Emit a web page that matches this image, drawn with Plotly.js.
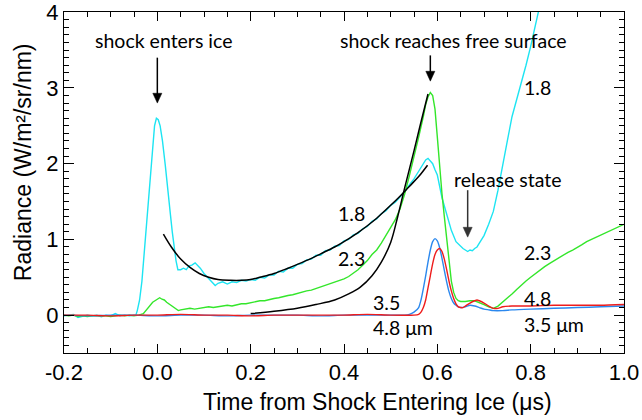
<!DOCTYPE html>
<html>
<head>
<meta charset="utf-8">
<script src="https://cdn.plot.ly/plotly-3.0.1.min.js"></script>
<style>html,body{margin:0;padding:0;background:#fff;}#chart{width:642px;height:420px;}</style>
</head>
<body>
<div id="chart"></div>
<script>
// 1.8 um channel (cyan)
const t18 = [-0.2,-0.19,-0.18,-0.17,-0.16,-0.15,-0.14,-0.13,-0.12,-0.11,-0.10,-0.09,-0.08,-0.07,-0.06,-0.05,-0.046,
  -0.043,-0.038,-0.033,-0.028,-0.022,-0.016,-0.011,-0.006,-0.002,0.002,0.006,0.011,0.017,0.022,0.028,0.032,0.036,0.040,0.044,
  0.05,0.056,0.062,0.068,0.074,0.081,0.086,0.092,0.1,0.107,0.114,0.12,0.124,
  0.13,0.14,0.15,0.16,0.17,0.18,0.19,0.2,0.21,0.22,0.23,0.24,0.25,0.26,0.27,0.28,0.29,0.3,0.31,0.32,
  0.33,0.34,0.35,0.36,0.37,0.38,0.39,0.4,0.41,0.42,0.43,0.44,0.45,0.46,0.47,0.48,0.49,0.5,0.51,0.52,
  0.53,0.54,0.55,0.56,0.565,0.57,0.575,0.58,0.585,0.59,0.595,0.6,
  0.61,0.62,0.63,0.64,0.65,0.655,0.66,0.665,0.67,0.675,0.68,0.685,0.69,
  0.7,0.71,0.72,0.73,0.74,0.75,0.76,0.77,0.78,0.79,0.8,0.81,0.82];
const v18 = [-0.01,0.0,0.01,-0.03,-0.01,0.0,-0.01,0.0,-0.02,0.0,-0.01,0.02,-0.01,0.0,-0.01,-0.01,0.0,
  0.06,0.2,0.45,0.85,1.33,1.8,2.2,2.5,2.6,2.58,2.5,2.3,1.98,1.65,1.33,1.1,0.89,0.72,0.6,
  0.6,0.62,0.6,0.65,0.66,0.69,0.66,0.62,0.55,0.5,0.45,0.41,0.39,
  0.42,0.44,0.41,0.44,0.43,0.46,0.45,0.47,0.46,0.5,0.49,0.53,0.53,0.58,0.57,0.62,0.62,0.67,0.68,0.73,
  0.74,0.79,0.79,0.85,0.86,0.91,0.92,0.98,1.0,1.06,1.08,1.14,1.17,1.24,1.27,1.34,1.38,1.45,1.49,1.56,
  1.63,1.72,1.8,1.9,1.95,2.0,2.05,2.07,2.04,2.0,1.92,1.85,
  1.55,1.35,1.12,0.97,0.9,0.88,0.86,0.84,0.86,0.85,0.88,0.9,0.95,
  1.05,1.2,1.37,1.65,2.0,2.3,2.62,2.85,3.05,3.3,3.55,3.8,4.1];

// 2.3 um channel (green)
const t23 = [-0.2,-0.19,-0.18,-0.17,-0.16,-0.15,-0.14,-0.13,-0.12,-0.11,-0.1,-0.09,-0.08,-0.07,-0.06,-0.05,-0.04,-0.03,-0.02,
  -0.01,0.0,0.005,0.01,0.015,0.02,0.025,0.03,0.035,0.04,0.045,
  0.05,0.06,0.07,0.08,0.09,0.1,0.11,0.12,0.13,0.14,0.15,0.16,0.17,0.18,0.19,0.2,0.21,0.22,0.23,0.24,
  0.25,0.26,0.27,0.28,0.29,0.3,0.31,0.32,0.33,0.34,0.35,0.36,0.37,0.38,0.39,0.4,0.41,0.42,0.43,0.44,
  0.45,0.46,0.47,0.48,0.49,0.5,0.51,0.52,0.53,0.54,0.55,0.56,0.57,
  0.575,0.58,0.585,0.59,0.595,0.6,0.605,0.61,0.615,0.62,0.625,0.63,0.635,0.64,0.645,0.65,
  0.66,0.67,0.68,0.69,0.7,0.71,0.72,0.73,0.74,0.75,0.76,0.77,0.78,0.79,0.8,0.81,0.82,0.83,0.84,0.85,
  0.86,0.87,0.88,0.89,0.9,0.91,0.92,0.93,0.94,0.95,0.96,0.97,0.98,0.99,1.0];
const v23 = [0.0,-0.01,0.0,-0.02,-0.01,-0.02,-0.01,-0.01,0.0,-0.01,-0.02,-0.01,0.0,-0.01,0.0,-0.01,0.0,0.02,0.1,
  0.17,0.21,0.23,0.21,0.2,0.17,0.15,0.13,0.1,0.08,0.06,
  0.07,0.08,0.09,0.08,0.09,0.1,0.11,0.1,0.11,0.12,0.13,0.12,0.14,0.15,0.15,0.16,0.18,0.19,0.19,0.21,
  0.22,0.23,0.25,0.26,0.27,0.29,0.3,0.32,0.33,0.35,0.37,0.39,0.41,0.43,0.46,0.48,0.51,0.55,0.6,0.66,
  0.72,0.8,0.86,0.95,1.05,1.15,1.26,1.4,1.6,1.84,2.08,2.35,2.62,
  2.78,2.88,2.94,2.9,2.72,2.35,1.95,1.6,1.3,1.0,0.72,0.45,0.3,0.22,0.19,0.18,
  0.18,0.19,0.19,0.17,0.14,0.11,0.09,0.12,0.17,0.22,0.28,0.34,0.4,0.45,0.5,0.55,0.6,0.64,0.68,0.72,
  0.76,0.79,0.83,0.86,0.89,0.93,0.97,1.0,1.03,1.06,1.09,1.12,1.15,1.17,1.2];

// 3.5 um channel (blue)
const t35 = [-0.2,-0.15,-0.1,-0.05,0.0,0.05,0.1,0.15,0.2,0.25,0.3,0.35,0.4,0.45,0.5,
  0.53,0.54,0.55,0.56,
  0.565,0.57,0.575,0.58,0.585,0.59,0.595,0.6,0.605,0.61,0.615,0.62,0.625,0.63,0.635,0.64,0.645,0.65,
  0.66,0.67,0.68,0.69,0.7,0.71,0.72,
  0.74,0.76,0.8,0.85,0.9,0.95,1.0];
const v35 = [0.0,-0.01,0.0,0.0,-0.01,0.0,0.0,-0.01,0.0,0.0,0.0,-0.01,0.0,0.0,0.0,
  0.0,0.01,0.04,0.1,
  0.2,0.35,0.52,0.7,0.86,0.97,1.01,0.98,0.89,0.75,0.59,0.44,0.31,0.22,0.16,0.13,0.11,0.1,
  0.11,0.13,0.12,0.1,0.08,0.07,0.06,
  0.06,0.07,0.08,0.09,0.1,0.11,0.12];

// 4.8 um channel (red)
const t48 = [-0.2,-0.15,-0.1,-0.05,0.0,0.05,0.1,0.15,0.2,0.25,0.3,0.35,0.4,0.45,0.5,0.55,
  0.56,0.565,0.57,0.575,0.58,0.585,0.59,0.595,0.6,0.605,0.61,0.615,0.62,0.625,0.63,0.635,0.64,0.645,0.65,0.655,0.66,
  0.67,0.68,0.685,0.69,0.7,0.71,0.72,0.73,0.74,
  0.76,0.8,0.85,0.9,0.95,1.0];
const v48 = [0.0,0.0,-0.01,0.0,0.0,0.01,0.0,0.0,-0.01,0.0,0.0,0.0,0.0,0.01,0.0,0.0,
  0.01,0.04,0.1,0.2,0.36,0.52,0.68,0.8,0.86,0.88,0.84,0.74,0.6,0.45,0.32,0.22,0.15,0.11,0.1,0.1,0.12,
  0.16,0.19,0.2,0.19,0.16,0.12,0.09,0.09,0.11,
  0.12,0.12,0.13,0.13,0.13,0.14];

// black fit curves
const tFit1 = [0.013,0.03,0.05,0.07,0.09,0.11,0.13,0.157,0.18,0.2,0.22,0.25,0.28,0.3,0.33,0.35,0.38,0.4,0.43,0.45,0.47,0.5,0.52,0.54,0.56,0.579];
const vFit1 = [1.07,0.9,0.74,0.63,0.55,0.5,0.47,0.46,0.46,0.47,0.5,0.55,0.62,0.67,0.75,0.81,0.9,0.97,1.09,1.18,1.28,1.45,1.57,1.7,1.83,1.98];
const tFit2 = [0.2,0.25,0.3,0.34,0.38,0.41,0.435,0.46,0.48,0.5,0.515,0.53,0.55,0.565,0.58];
const vFit2 = [0.02,0.05,0.09,0.14,0.2,0.28,0.37,0.52,0.7,0.96,1.3,1.68,2.17,2.55,2.92];

const xTickVals = [-0.2,0,0.2,0.4,0.6,0.8,1.0];
const xTickText = ['-0.2','0.0','0.2','0.4','0.6','0.8','1.0'];
const yTickVals = [0,1,2,3,4];
const yTickText = ['0','1','2','3','4'];

const lw = 1.4;
const traces = [
  {x:t18, y:v18, mode:'lines', line:{color:'#1de4f2', width:lw}},
  {x:t23, y:v23, mode:'lines', line:{color:'#33e62a', width:lw}},
  {x:t35, y:v35, mode:'lines', line:{color:'#2b88ee', width:lw, shape:'spline', smoothing:0.6}},
  {x:t48, y:v48, mode:'lines', line:{color:'#ee1c1c', width:lw, shape:'spline', smoothing:0.6}},
  {x:tFit1, y:vFit1, mode:'lines', line:{color:'#000', width:1.5, shape:'spline'}},
  {x:tFit2, y:vFit2, mode:'lines', line:{color:'#000', width:1.5, shape:'spline'}}
];

const tickFont = {family:'"Liberation Sans", Arial, Helvetica, sans-serif', size:22, color:'#000'};
const labFont = {family:'Lato, "Noto Sans", sans-serif', size:19.5, color:'#000'};
function lab(text, x, y){ return {text:text, x:x, y:y, xref:'x', yref:'y', showarrow:false, font:labFont, xanchor:'center', yanchor:'middle'}; }

// arrows drawn as shapes: vertical stem + filled head (x, tail y, tip y)
const HW = 0.0097, HL = 0.13;
function arrowShapes(x, yTail, yTip, col){
  return [
    {type:'line', xref:'x', yref:'y', x0:x, x1:x, y0:yTail, y1:yTip + HL*0.8, line:{color:col, width:1.5}},
    {type:'path', xref:'x', yref:'y', path:'M '+(x-HW)+' '+(yTip+HL)+' L '+(x+HW)+' '+(yTip+HL)+' L '+x+' '+yTip+' Z',
      fillcolor:col, line:{color:col, width:0.5}}
  ];
}

const layout = {
  width:642, height:420,
  margin:{l:64, r:18, t:12, b:67, pad:0},
  paper_bgcolor:'#fff', plot_bgcolor:'#fff',
  showlegend:false,
  xaxis:{range:[-0.2,1.0], tickmode:'array', tickvals:xTickVals, ticktext:xTickText,
    ticks:'inside', ticklen:9, tickwidth:1, tickcolor:'#000', ticklabeloverflow:'allow',
    minor:{tickmode:'linear', tick0:0, dtick:0.05, ticks:'inside', ticklen:5, tickwidth:1, tickcolor:'#000', showgrid:false},
    showline:true, linecolor:'#000', linewidth:1, mirror:'allticks', showgrid:false, zeroline:false, tickfont:tickFont},
  yaxis:{range:[-0.5,4.003], tickmode:'array', tickvals:yTickVals, ticktext:yTickText,
    ticks:'inside', ticklen:10, tickwidth:1, tickcolor:'#000', ticklabeloverflow:'allow',
    minor:{tickmode:'linear', tick0:0, dtick:0.1, ticks:'inside', ticklen:5, tickwidth:1, tickcolor:'#000', showgrid:false},
    showline:true, linecolor:'#000', linewidth:1, mirror:'allticks', showgrid:false, zeroline:false, tickfont:tickFont},
  shapes:[].concat(
    arrowShapes(0.0, 3.40, 2.80, '#000'),
    arrowShapes(0.585, 3.43, 3.09, '#000'),
    arrowShapes(0.665, 1.65, 1.03, '#333')
  ),
  annotations:[
    {text:'Radiance (W/m²/sr/nm)', xref:'paper', yref:'paper', x:-0.073, y:0.56, textangle:-90, showarrow:false,
      xanchor:'center', yanchor:'middle', font:{family:tickFont.family, size:23, color:'#000'}},
    {text:'Time from Shock Entering Ice (μs)', xref:'paper', yref:'paper', x:0.559, y:-0.143, showarrow:false,
      xanchor:'center', yanchor:'middle', font:{family:tickFont.family, size:23, color:'#000'}},
    lab('shock enters ice', 0.013, 3.63),
    lab('shock reaches free surface', 0.635, 3.63),
    lab('1.8', 0.815, 3.01),
    lab('release state', 0.752, 1.79),
    lab('1.8', 0.416, 1.34),
    lab('2.3', 0.416, 0.75),
    lab('3.5', 0.491, 0.17),
    lab('4.8 μm', 0.527, -0.16),
    lab('2.3', 0.815, 0.83),
    lab('4.8', 0.815, 0.22),
    lab('3.5 μm', 0.849, -0.12)
  ]
};

Plotly.newPlot('chart', traces, layout, {staticPlot:true, displayModeBar:false}).then(function(){
  var tester = document.getElementById('js-plotly-tester');
  if (tester && tester.parentNode) tester.parentNode.removeChild(tester);
});
</script>
</body>
</html>
